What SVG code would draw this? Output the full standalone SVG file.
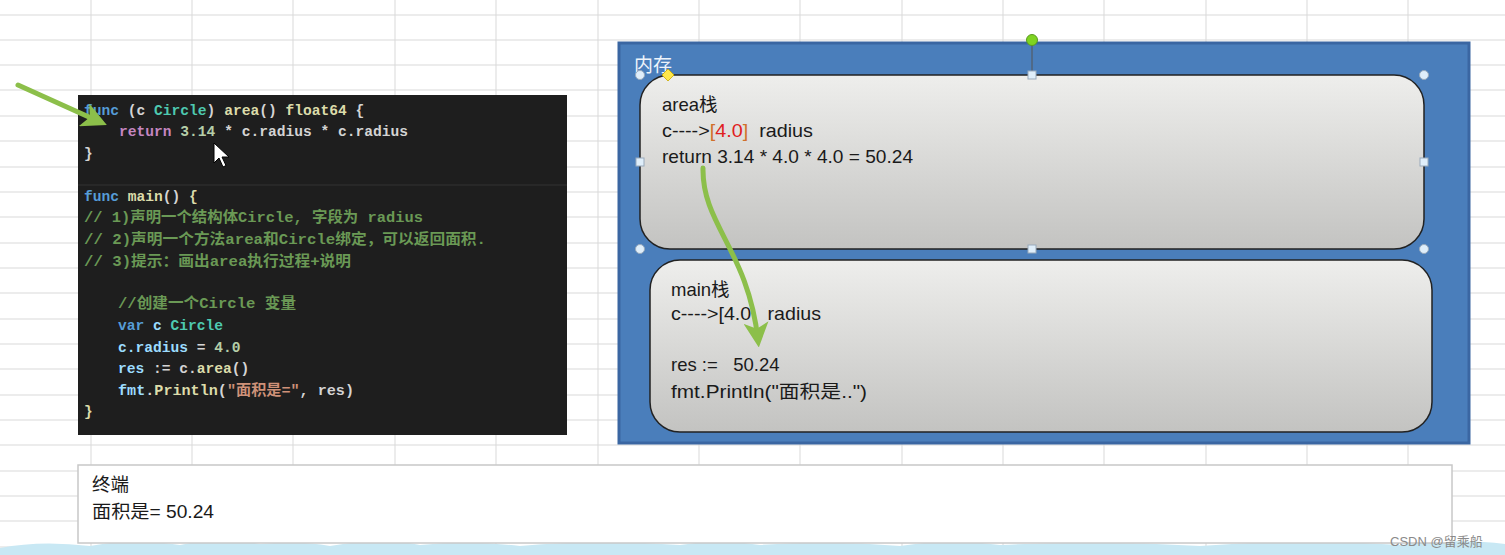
<svg xmlns="http://www.w3.org/2000/svg" width="1505" height="555" viewBox="0 0 1505 555">
<style>
.grid line{stroke:#d9d9d9;stroke-width:1}
.code{font-family:"Liberation Mono","DejaVu Sans Mono","Noto Sans CJK SC",monospace;font-size:14.6px;font-weight:bold}
.kw{fill:#569cd6}.pl{fill:#d4d4d4}.fn{fill:#dcdcaa}.ty{fill:#4ec9b0}.pu{fill:#c586c0}.nu{fill:#b5cea8}.cm{fill:#6a9955}.va{fill:#9cdcfe}.st{fill:#ce9178}
.lbl{font-family:"Liberation Sans","Noto Sans CJK SC",sans-serif;font-size:18.5px;fill:#1a1a1a}
.handle{fill:#dfeefa;stroke:#9ab;stroke-width:1}
</style>
<defs>
<linearGradient id="gstack" x1="0" y1="0" x2="0" y2="1">
<stop offset="0" stop-color="#eeeeec"/>
<stop offset="1" stop-color="#c3c3c1"/>
</linearGradient>
<marker id="ah" viewBox="0 0 10 10" refX="7" refY="5" markerWidth="5" markerHeight="5" orient="auto">
<path d="M0,0 L10,5 L0,10 L2.5,5 z" fill="#8cbf4a"/>
</marker>
</defs>
<rect width="1505" height="555" fill="#ffffff"/>
<g class="grid">
<line x1="0" y1="15" x2="1505" y2="15"/><line x1="0" y1="40" x2="1505" y2="40"/><line x1="0" y1="65" x2="1505" y2="65"/><line x1="0" y1="90" x2="1505" y2="90"/><line x1="0" y1="116" x2="1505" y2="116"/><line x1="0" y1="141" x2="1505" y2="141"/><line x1="0" y1="167" x2="1505" y2="167"/><line x1="0" y1="192" x2="1505" y2="192"/><line x1="0" y1="217" x2="1505" y2="217"/><line x1="0" y1="243" x2="1505" y2="243"/><line x1="0" y1="268" x2="1505" y2="268"/><line x1="0" y1="293" x2="1505" y2="293"/><line x1="0" y1="319" x2="1505" y2="319"/><line x1="0" y1="344" x2="1505" y2="344"/><line x1="0" y1="369" x2="1505" y2="369"/><line x1="0" y1="395" x2="1505" y2="395"/><line x1="0" y1="420" x2="1505" y2="420"/><line x1="0" y1="445" x2="1505" y2="445"/><line x1="0" y1="471" x2="1505" y2="471"/><line x1="0" y1="496" x2="1505" y2="496"/><line x1="0" y1="521" x2="1505" y2="521"/><line x1="0" y1="547" x2="1505" y2="547"/>
<line x1="91" y1="0" x2="91" y2="555"/><line x1="192" y1="0" x2="192" y2="555"/><line x1="293" y1="0" x2="293" y2="555"/><line x1="395" y1="0" x2="395" y2="555"/><line x1="496" y1="0" x2="496" y2="555"/><line x1="598" y1="0" x2="598" y2="555"/><line x1="699" y1="0" x2="699" y2="555"/><line x1="800" y1="0" x2="800" y2="555"/><line x1="902" y1="0" x2="902" y2="555"/><line x1="1003" y1="0" x2="1003" y2="555"/><line x1="1104" y1="0" x2="1104" y2="555"/><line x1="1206" y1="0" x2="1206" y2="555"/><line x1="1307" y1="0" x2="1307" y2="555"/><line x1="1408" y1="0" x2="1408" y2="555"/>
</g>
<path d="M0,548 Q40,540 90,546 Q130,538 180,545 Q220,536 260,544 Q300,540 330,546 Q380,537 420,545 Q470,540 520,546 Q600,539 680,545 Q720,538 760,545 Q830,540 900,546 Q950,538 1000,545 Q1100,540 1200,546 Q1300,538 1400,545 Q1460,538 1505,544 L1505,555 L0,555 z" fill="#c8e8f4"/>

<g id="code">
<rect x="78" y="95" width="489" height="340" fill="#1e1e1e"/>
<line x1="78" y1="185" x2="567" y2="185" stroke="#333" stroke-width="1"/>
<text class="code" x="84" y="115"><tspan class="kw">func</tspan><tspan class="pl"> (c </tspan><tspan class="ty">Circle</tspan><tspan class="pl">) </tspan><tspan class="fn">area</tspan><tspan class="pl">() </tspan><tspan class="fn">float64</tspan><tspan class="pl"> {</tspan></text>
<text class="code" x="84" y="136" xml:space="preserve"><tspan class="pl">    </tspan><tspan class="pu">return</tspan><tspan class="pl"> </tspan><tspan class="nu">3.14</tspan><tspan class="pl"> * c.radius * c.radius</tspan></text>
<text class="code pl" x="84" y="158">}</text>
<text class="code" x="84" y="201"><tspan class="kw">func</tspan><tspan class="pl"> </tspan><tspan class="fn">main</tspan><tspan class="pl">() </tspan><tspan class="fn">{</tspan></text>
<text class="code cm" x="84" y="222" textLength="339" lengthAdjust="spacingAndGlyphs">// 1)声明一个结构体Circle, 字段为 radius</text>
<text class="code cm" x="84" y="244" textLength="402" lengthAdjust="spacingAndGlyphs">// 2)声明一个方法area和Circle绑定，可以返回面积.</text>
<text class="code cm" x="84" y="266" textLength="267" lengthAdjust="spacingAndGlyphs">// 3)提示：画出area执行过程+说明</text>
<text class="code cm" x="118" y="308" textLength="178" lengthAdjust="spacingAndGlyphs">//创建一个Circle 变量</text>
<text class="code" x="118" y="330"><tspan class="kw">var</tspan><tspan class="va"> c </tspan><tspan class="ty">Circle</tspan></text>
<text class="code" x="118" y="352"><tspan class="va">c.radius</tspan><tspan class="pl"> = </tspan><tspan class="nu">4.0</tspan></text>
<text class="code" x="118" y="373"><tspan class="va">res</tspan><tspan class="pl"> := c.</tspan><tspan class="fn">area</tspan><tspan class="pl">()</tspan></text>
<text class="code" x="118" y="395" textLength="236" lengthAdjust="spacingAndGlyphs"><tspan class="va">fmt</tspan><tspan class="pl">.</tspan><tspan class="fn">Println</tspan><tspan class="pl">(</tspan><tspan class="st">"面积是="</tspan><tspan class="pl">, res)</tspan></text>
<text class="code fn" x="84" y="416">}</text>
<path d="M214,143 l0,20 l5,-5 l4,9 l3,-1.5 l-4,-8.5 l7,0 z" fill="#fff" stroke="#000" stroke-width="1"/>
</g>

<g id="memory">
<rect x="619" y="43" width="850" height="400" fill="#4a7ebb" stroke="#3a66a2" stroke-width="3"/>
<text x="634" y="72" font-family="Liberation Sans,Noto Sans CJK SC,sans-serif" font-size="19" fill="#eef4fb">内存</text>
</g>

<g id="area-stack">
<rect x="640" y="75" width="784" height="174" rx="30" ry="30" fill="url(#gstack)" stroke="#222" stroke-width="1.5"/>
<text class="lbl" x="662" y="111">area栈</text>
<text class="lbl" x="662" y="137" xml:space="preserve" textLength="151" lengthAdjust="spacingAndGlyphs">c----&gt;<tspan fill="#d0702a">[</tspan><tspan fill="#e02020">4.0</tspan><tspan fill="#d0702a">]</tspan>  radius</text>
<text class="lbl" x="662" y="163" textLength="251" lengthAdjust="spacingAndGlyphs">return 3.14 * 4.0 * 4.0 = 50.24</text>
</g>

<g id="main-stack">
<rect x="650" y="260" width="782" height="172" rx="30" ry="30" fill="url(#gstack)" stroke="#222" stroke-width="1.5"/>
<text class="lbl" x="671" y="296">main栈</text>
<text class="lbl" x="671" y="320" xml:space="preserve" textLength="150" lengthAdjust="spacingAndGlyphs">c----&gt;[4.0   radius</text>
<text class="lbl" x="671" y="371" xml:space="preserve">res :=   50.24</text>
<text class="lbl" x="671" y="398" textLength="196" lengthAdjust="spacingAndGlyphs">fmt.Println("面积是..")</text>
</g>

<g id="selection">
<line x1="1032" y1="40" x2="1032" y2="75" stroke="#555" stroke-width="1"/>
<circle cx="1032" cy="40" r="5.5" fill="#7ed321" stroke="#5a9a20" stroke-width="1"/>
<circle class="handle" cx="640" cy="75" r="4.5"/><circle class="handle" cx="1424" cy="75" r="4.5"/>
<circle class="handle" cx="640" cy="249" r="4.5"/><circle class="handle" cx="1424" cy="249" r="4.5"/>
<rect class="handle" x="1028" y="71" width="8" height="8"/><rect class="handle" x="1028" y="245" width="8" height="8"/>
<rect class="handle" x="636" y="158" width="8" height="8"/><rect class="handle" x="1420" y="158" width="8" height="8"/>
<path d="M668,69 L674,75 L668,81 L662,75 z" fill="#ffe84a" stroke="#c9a800" stroke-width="0.8"/>
</g>

<g id="terminal">
<rect x="78" y="465" width="1374" height="78" fill="#ffffff" stroke="#c8c8c8" stroke-width="1.5"/>
<text class="lbl" x="92" y="491">终端</text>
<text class="lbl" x="92" y="518" textLength="122" lengthAdjust="spacingAndGlyphs">面积是= 50.24</text>
</g>

<g id="connectors" fill="none" stroke="#8cbf4a" stroke-linecap="round">
<path d="M18,85 L100,122" stroke-width="5" marker-end="url(#ah)"/>
<path d="M703,168 C702,225 748,250 758,340" stroke-width="5" marker-end="url(#ah)"/>
</g>

<text x="1390" y="546" font-family="Liberation Sans,Noto Sans CJK SC,sans-serif" font-size="13" fill="#8a8a8a">CSDN @留乘船</text>
</svg>
